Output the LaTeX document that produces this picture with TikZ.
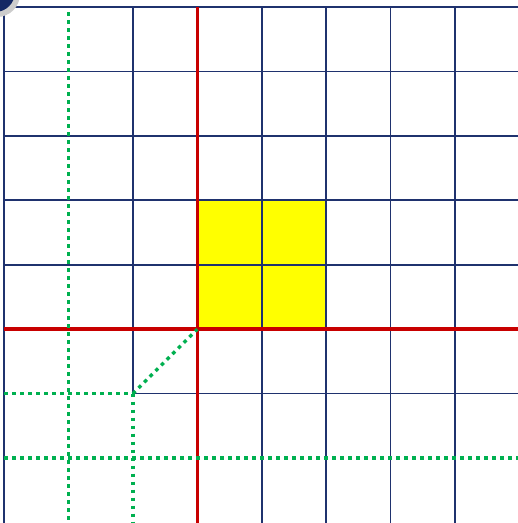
\documentclass[tikz,border=0pt]{standalone}
\definecolor{gridblue}{RGB}{31,50,110}
\definecolor{axisred}{RGB}{200,0,0}
\definecolor{dotgreen}{RGB}{0,176,80}
\definecolor{sqyellow}{RGB}{255,255,0}
\definecolor{circnavy}{RGB}{20,40,100}
\begin{document}
\begin{tikzpicture}[x=1pt,y=-1pt,
  gridline/.style={draw=gridblue, line width=1.8pt},
  redline/.style={draw=axisred, line width=3.6pt},
  greendot/.style={draw=dotgreen, line width=3.4pt, dash pattern=on 3.6pt off 4.4pt},
  fillsq/.style={fill=sqyellow}]
\useasboundingbox (0,0) rectangle (518,523);
\fill[white] (0,0) rectangle (518,523);
% yellow square
\fill[fillsq] (197,200) rectangle (326,329);
% grid
\foreach \x in {4,261.71,326.14,390.57,455} {\draw[gridline] (\x,7) -- (\x,523);}
\draw[gridline] (132.86,7) -- (132.86,393.57);
\foreach \y in {7,71.43,135.86,200.29,264.71} {\draw[gridline] (4,\y) -- (518,\y);}
\draw[gridline] (132.86,393.57) -- (518,393.57);
% red axes
\draw[redline] (197.3,7) -- (197.3,523);
\draw[redline] (4,329.1) -- (518,329.1);
% green dotted lines
\coordinate (o) at (197.3,329.1);
\coordinate (p) at (132.86,393.57);
\draw[greendot] (68.43,12) -- (68.43,523);
\draw[greendot] (4,458) -- (518,458);
\draw[greendot] (p) -- (132.86,523);
\draw[greendot] (4,393.57) -- (p);
\draw[greendot] (p) -- (o);
% corner circle
\fill[black!20] (-3,-6) circle (23);
\fill[circnavy] (-5,-8) circle (20);
\end{tikzpicture}
\end{document}
